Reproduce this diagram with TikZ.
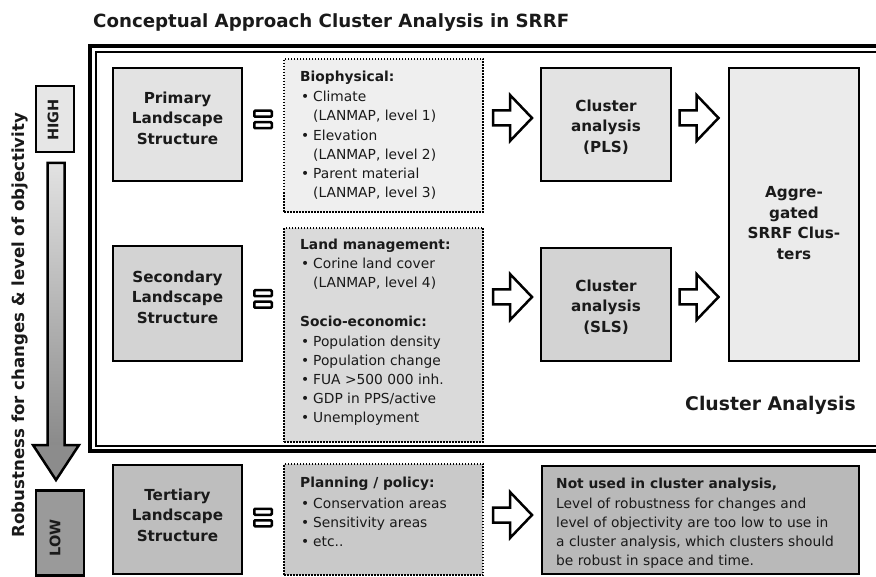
\documentclass[tikz,border=0pt]{standalone}
\usepackage{fontspec}
\setmainfont{DejaVu Sans}
\usetikzlibrary{calc}
\definecolor{txt}{HTML}{1A1A1A}
\definecolor{fprim}{HTML}{E3E3E3}
\definecolor{fbio}{HTML}{EFEFEF}
\definecolor{fsec}{HTML}{D3D3D3}
\definecolor{fland}{HTML}{DADADA}
\definecolor{fter}{HTML}{BEBEBE}
\definecolor{fplan}{HTML}{C9C9C9}
\definecolor{fnot}{HTML}{B9B9B9}
\definecolor{fhigh}{HTML}{E6E6E6}
\definecolor{flow}{HTML}{9A9A9A}
\definecolor{fagg}{HTML}{EBEBEB}
\definecolor{shtop}{HTML}{E2E2E2}
\definecolor{shbot}{HTML}{8A8A8A}
\definecolor{fhead}{HTML}{8C8C8C}
\begin{document}
\begin{tikzpicture}[x=1pt,y=-1pt,
  box/.style={draw=black, line width=2.5pt, inner sep=0},
  dbox/.style={draw=black, line width=2.2pt, dash pattern=on 1.5pt off 1.5pt, inner sep=0},
  bt/.style={font=\fontsize{15.2}{20.5}\selectfont\bfseries, align=center, inner sep=0, text=txt},
  lt/.style={anchor=base west, inner sep=0, font=\fontsize{13.8}{16}\selectfont, text=txt},
  lh/.style={anchor=base west, inner sep=0, font=\fontsize{13.8}{16}\selectfont\bfseries, text=txt},
  rt/.style={rotate=90, inner sep=0, font=\fontsize{14.5}{16}\selectfont\bfseries, text=txt},
  hollow/.pic={\draw[line width=2.5pt, fill=white, line join=miter]
     (-19.5,-7.5) -- (-2.5,-7.5) -- (-2.5,-23) -- (19.5,0) -- (-2.5,23) -- (-2.5,7.5) -- (-19.5,7.5) -- cycle;},
  eqicon/.pic={\draw[line width=2.5pt, rounded corners=1pt] (-8.75,-8.75) rectangle (8.75,-2.75) (-8.75,2.75) rectangle (8.75,8.75);}
]
\useasboundingbox (0,0) rectangle (876,577);

% title
\node[anchor=base west, inner sep=0, font=\fontsize{18.2}{22}\selectfont\bfseries, text=txt] (title) at (93,28)
  {Conceptual Approach Cluster Analysis in SRRF};

% double frame (open to the right edge)
\draw[line width=4pt, line join=miter] (880,46) -- (90,46) -- (90,451) -- (880,451);
\draw[line width=2pt, line join=miter] (880,52) -- (96,52) -- (96,446) -- (880,446);

% left axis
\node[rotate=90, inner sep=0, font=\fontsize{16.6}{20}\selectfont\bfseries, text=txt] (axis) at (20,325)
  {Robustness for changes \& level of objectivity};
\node[box, fill=fhigh, minimum width=38, minimum height=66] (high) at (55,119) {};
\node[rt] (hight) at (53,120) {HIGH};
\node[box, fill=flow, minimum width=48, minimum height=85] (low) at (60,533) {};
\node[rt] (lowt) at (55,538) {LOW};
\shade[top color=shtop, bottom color=shbot] (47.5,163) rectangle (64.5,446);
\fill[fhead] (33,445) -- (79,445) -- (56,480) -- cycle;
\draw[line width=2.5pt, line join=miter] (47.5,163) -- (64.5,163) -- (64.5,445) -- (79,445) -- (56,480) -- (33,445) -- (47.5,445) -- cycle;

% landscape structure boxes
\node[box, fill=fprim, minimum width=129, minimum height=113] (prim) at (177.5,124.5) {};
\node[bt] (primt) at (177.5,118) {Primary\\Landscape\\Structure};
\node[box, fill=fsec, minimum width=129, minimum height=115] (sec) at (177.5,303.5) {};
\node[bt] (sect) at (177.5,297) {Secondary\\Landscape\\Structure};
\node[box, fill=fter, minimum width=129, minimum height=109] (ter) at (177.5,519.5) {};
\node[bt] (tert) at (177.5,515) {Tertiary\\Landscape\\Structure};

\pic at (263,119.5) {eqicon};
\pic at (263,299) {eqicon};
\pic at (263,517.5) {eqicon};

% indicator boxes
\node[dbox, fill=fbio, minimum width=199, minimum height=153] (bio) at (383.5,135.5) {};
\node[dbox, fill=fland, minimum width=199, minimum height=214] (land) at (383.5,335) {};
\node[dbox, fill=fplan, minimum width=199, minimum height=111] (plan) at (383.5,519.5) {};

\node[lh] (b0) at (300,82) {Biophysical:};
\node[lt] (b1) at (313,101.7) {\llap{•\hspace{4pt}}Climate};
\node[lt] (b2) at (313,120.9) {(LANMAP, level 1)};
\node[lt] (b3) at (313,140.1) {\llap{•\hspace{4pt}}Elevation};
\node[lt] (b4) at (313,159.3) {(LANMAP, level 2)};
\node[lt] (b5) at (313,178.5) {\llap{•\hspace{4pt}}Parent material};
\node[lt] (b6) at (313,197.7) {(LANMAP, level 3)};

\node[lh] (l0) at (300,250) {Land management:};
\node[lt] (l1) at (313,269) {\llap{•\hspace{4pt}}Corine land cover};
\node[lt] (l2) at (313,288) {(LANMAP, level 4)};
\node[lh] (s0) at (300,326.7) {Socio-economic:};
\node[lt] (s1) at (313,346.5) {\llap{•\hspace{4pt}}Population density};
\node[lt] (s2) at (313,365.5) {\llap{•\hspace{4pt}}Population change};
\node[lt] (s3) at (313,384.5) {\llap{•\hspace{4pt}}FUA >500 000 inh.};
\node[lt] (s4) at (313,403.5) {\llap{•\hspace{4pt}}GDP in PPS/active};
\node[lt] (s5) at (313,422.5) {\llap{•\hspace{4pt}}Unemployment};

\node[lh] (p0) at (300,487) {Planning / policy:};
\node[lt] (p1) at (313,508) {\llap{•\hspace{4pt}}Conservation areas};
\node[lt] (p2) at (313,527) {\llap{•\hspace{4pt}}Sensitivity areas};
\node[lt] (p3) at (313,546) {\llap{•\hspace{4pt}}etc..};

% cluster analysis boxes
\node[box, fill=fprim, minimum width=130, minimum height=113] (pls) at (606,124.5) {};
\node[bt] (plst) at (606,127) {Cluster\\analysis\\(PLS)};
\node[box, fill=fsec, minimum width=130, minimum height=113] (sls) at (606,304.5) {};
\node[bt] (slst) at (606,307) {Cluster\\analysis\\(SLS)};
\node[box, fill=fagg, minimum width=130, minimum height=293] (agg) at (794,214.5) {};
\node[bt] (aggt) at (794,223) {Aggre-\\gated\\SRRF Clus-\\ters};
\node[anchor=base, inner sep=0, font=\fontsize{18.8}{22}\selectfont\bfseries, text=txt] (ca) at (770.5,410) {Cluster Analysis};

\node[box, fill=fnot, minimum width=317, minimum height=108] (not) at (700.5,520) {};
\node[lh] (n0) at (556,488) {Not used in cluster analysis,};
\node[lt] (n1) at (556,508) {Level of robustness for changes and};
\node[lt] (n2) at (556,527) {level of objectivity are too low to use in};
\node[lt] (n3) at (556,546.5) {a cluster analysis, which clusters should};
\node[lt] (n4) at (556,565.5) {be robust in space and time.};

% block arrows between boxes
\pic at (512.5,118) {hollow};
\pic at (699,118) {hollow};
\pic at (512.5,297) {hollow};
\pic at (699,297) {hollow};
\pic at (512.5,515) {hollow};
\end{tikzpicture}
\end{document}
